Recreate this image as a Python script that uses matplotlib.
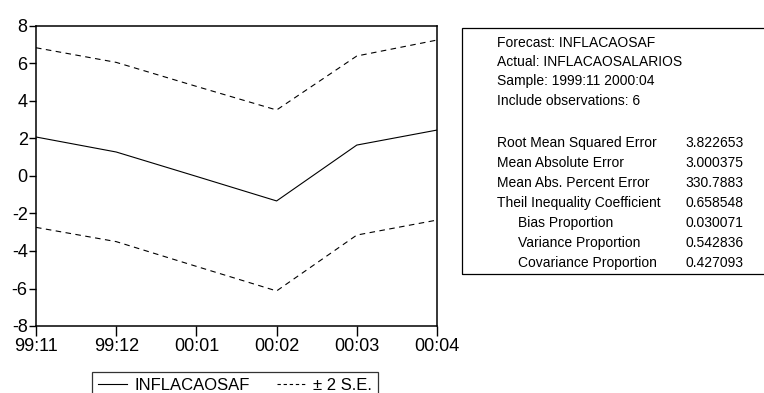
import matplotlib
matplotlib.use("Agg")
import matplotlib.pyplot as plt
from matplotlib.patches import Rectangle
from matplotlib.lines import Line2D

plt.rcParams['font.family'] = ['Liberation Sans', 'DejaVu Sans']
plt.rcParams['axes.unicode_minus'] = False

# dados
periodos = ["99:11", "99:12", "00:01", "00:02", "00:03", "00:04"]
previsao = [2.08, 1.28, -0.02, -1.33, 1.65, 2.45]
banda_sup = [6.84, 6.06, 4.78, 3.52, 6.40, 7.25]
banda_inf = [-2.74, -3.50, -4.82, -6.13, -3.15, -2.35]

rotulos_info = ["Forecast: INFLACAOSAF", "Actual: INFLACAOSALARIOS",
                "Sample: 1999:11 2000:04", "Include observations: 6"]
rotulos_stats = ["Root Mean Squared Error", "Mean Absolute Error",
                 "Mean Abs. Percent Error", "Theil Inequality Coefficient",
                 "Bias Proportion", "Variance Proportion", "Covariance Proportion"]
valores_stats = ["3.822653", "3.000375", "330.7883", "0.658548",
                 "0.030071", "0.542836", "0.427093"]
recuo = [False, False, False, False, True, True, True]

W, H = 764, 393
fig = plt.figure(figsize=(W / 100, H / 100), dpi=100)
ax = fig.add_axes([36 / W, 1 - 326 / H, (437 - 36) / W, (326 - 26) / H])

x = list(range(len(periodos)))
ax.plot(x, previsao, color='black', lw=0.8)
ax.plot(x, banda_sup, color='black', lw=0.8, linestyle=(0, (5, 4)))
ax.plot(x, banda_inf, color='black', lw=0.8, linestyle=(0, (5, 4)))

ax.set_xlim(0, len(periodos) - 1)
ax.set_ylim(-8, 8)
ax.set_yticks(range(-8, 9, 2))
ax.set_xticks(x)
ax.set_xticklabels(periodos)
ax.tick_params(axis='both', labelsize=13, direction='out', width=1)
ax.tick_params(axis='y', length=5, pad=1)
ax.tick_params(axis='x', length=7, pad=1.5)
for s in ax.spines.values():
    s.set_linewidth(1.1)

# legenda
h1 = Line2D([], [], color='black', lw=0.8)
h2 = Line2D([], [], color='black', lw=0.8, linestyle=(0, (3, 2.5)))
leg = fig.legend([h1, h2], ["INFLACAOSAF", "± 2 S.E."], ncol=2,
                 loc='upper left', bbox_to_anchor=(92 / W, 1 - 372 / H),
                 fontsize=12, frameon=True, fancybox=False, edgecolor='black',
                 handlelength=1.75, handletextpad=0.45, columnspacing=1.6,
                 borderpad=0.35, borderaxespad=0)
leg.get_frame().set_linewidth(0.9)

# quadro de estatísticas
fig.patches.append(Rectangle((462 / W, 1 - 274 / H), (W - 462 + 5) / W, (274 - 28) / H,
                             transform=fig.transFigure, fill=False,
                             edgecolor='black', lw=0.9))
y0 = 43
for i, r in enumerate(rotulos_info):
    fig.text(497 / W, 1 - (y0 + 19.2 * i) / H, r, fontsize=10, va='center')
y1 = 143
for i, (r, v) in enumerate(zip(rotulos_stats, valores_stats)):
    xx = 518 if recuo[i] else 497
    yy = 1 - (y1 + 20 * i) / H
    fig.text(xx / W, yy, r, fontsize=10, va='center')
    fig.text(685 / W, yy, v, fontsize=10, va='center')

fig.savefig("out.png", dpi=100)
